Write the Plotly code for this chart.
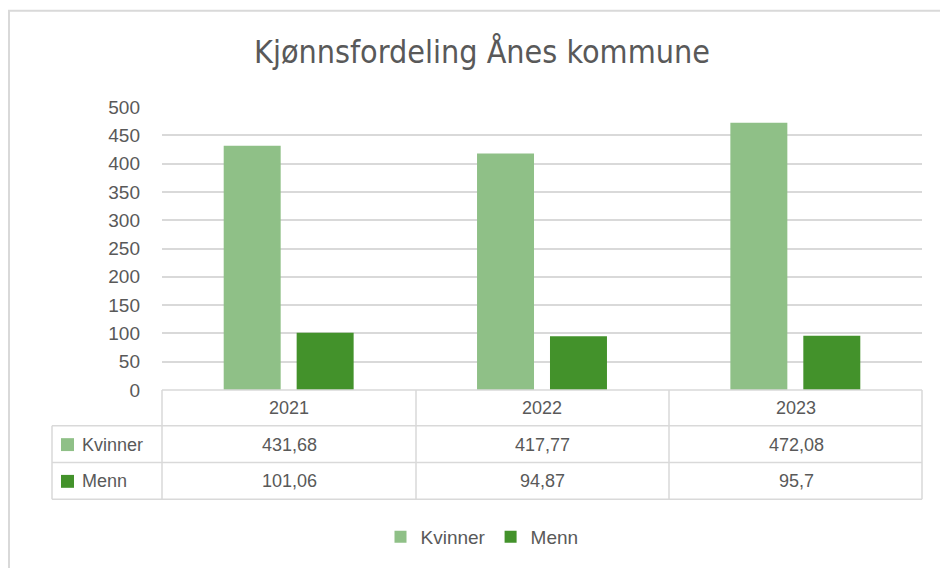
import plotly.graph_objects as go

years = ["2021", "2022", "2023"]
kvinner = [431.68, 417.77, 472.08]
menn = [101.06, 94.87, 95.7]
kvinner_lbl = ["431,68", "417,77", "472,08"]
menn_lbl = ["101,06", "94,87", "95,7"]
y_ticks = [0, 50, 100, 150, 200, 250, 300, 350, 400, 450, 500]

C_K = "#8FC087"
C_M = "#43922B"
TXT = "#595959"
GRID = "#D9D9D9"
FONT = "Liberation Sans, Arial, sans-serif"

W, H = 940, 568
L, R, T, B = 162, 922, 107, 392


def px(x):
    return (x - L) / (R - L)


def py(y):
    return (B - y) / (B - T)


fig = go.Figure()
fig.add_trace(go.Bar(name="Kvinner", x=years, y=kvinner, marker=dict(color=C_K, line=dict(width=0))))
fig.add_trace(go.Bar(name="Menn", x=years, y=menn, marker=dict(color=C_M, line=dict(width=0))))

shapes = []
annotations = []

# chart border (top and left visible)
shapes.append(dict(type="rect", xref="paper", yref="paper", x0=px(9), x1=px(960), y0=py(590), y1=py(10),
                   line=dict(color=GRID, width=2), layer="below"))

# data table lines
line = dict(color=GRID, width=1.5)
for yy in [392, 428, 465, 502]:
    x0 = 162 if yy == 392 else 52
    shapes.append(dict(type="line", xref="paper", yref="paper", x0=px(x0), x1=px(922), y0=py(yy), y1=py(yy), line=line))
for xx in [162, 416, 669, 922]:
    shapes.append(dict(type="line", xref="paper", yref="paper", x0=px(xx), x1=px(xx), y0=py(392), y1=py(502), line=line))
shapes.append(dict(type="line", xref="paper", yref="paper", x0=px(52), x1=px(52), y0=py(428), y1=py(502), line=line))


def ann(text, x, y, size=18, xanchor="center", family=FONT):
    return dict(text=text, x=px(x), y=py(y), xref="paper", yref="paper", xanchor=xanchor, yanchor="middle",
                showarrow=False, font=dict(size=size, color=TXT, family=family))


col_centers = [289, 542, 796]
row_y = {"head": 410, "k": 447, "m": 484}
for i, yr in enumerate(years):
    annotations.append(ann(yr, col_centers[i], row_y["head"]))
    annotations.append(ann(kvinner_lbl[i], col_centers[i], row_y["k"]))
    annotations.append(ann(menn_lbl[i], col_centers[i], row_y["m"]))

for key, name, col in [("k", "Kvinner", C_K), ("m", "Menn", C_M)]:
    yc = row_y[key]
    shapes.append(dict(type="rect", xref="paper", yref="paper", x0=px(61), x1=px(74), y0=py(yc + 6.5), y1=py(yc - 6.5),
                       line=dict(width=0), fillcolor=col))
    annotations.append(ann(name, 80, yc, xanchor="left"))

annotations.append(ann("Kjønnsfordeling Ånes kommune", 482, 52, size=32,
                       family="Liberation Sans Narrow, DejaVu Sans Condensed, Arial Narrow, sans-serif"))

fig.update_layout(
    width=W, height=H,
    margin=dict(l=L, r=W - R, t=T, b=H - B, pad=0),
    paper_bgcolor="white", plot_bgcolor="white",
    barmode="group", bargap=0.424, bargroupgap=0.219,
    showlegend=True,
    legend=dict(orientation="h", x=px(482), xanchor="center", y=py(540), yanchor="middle",
                font=dict(size=19, color=TXT, family=FONT), itemsizing="constant"),
    shapes=shapes, annotations=annotations,
    xaxis=dict(showticklabels=False, showgrid=False, zeroline=False, showline=False, ticks=""),
    yaxis=dict(range=[0, 500], tickvals=y_ticks, showgrid=True, gridcolor=GRID, gridwidth=1.5,
               zeroline=False, showline=False, ticks="", ticklabelstandoff=21,
               tickfont=dict(size=19, color=TXT, family=FONT)),
)

fig.write_html("out.html", config={"displayModeBar": False},
               post_script="document.body.style.margin='0';document.body.style.overflow='hidden';")
